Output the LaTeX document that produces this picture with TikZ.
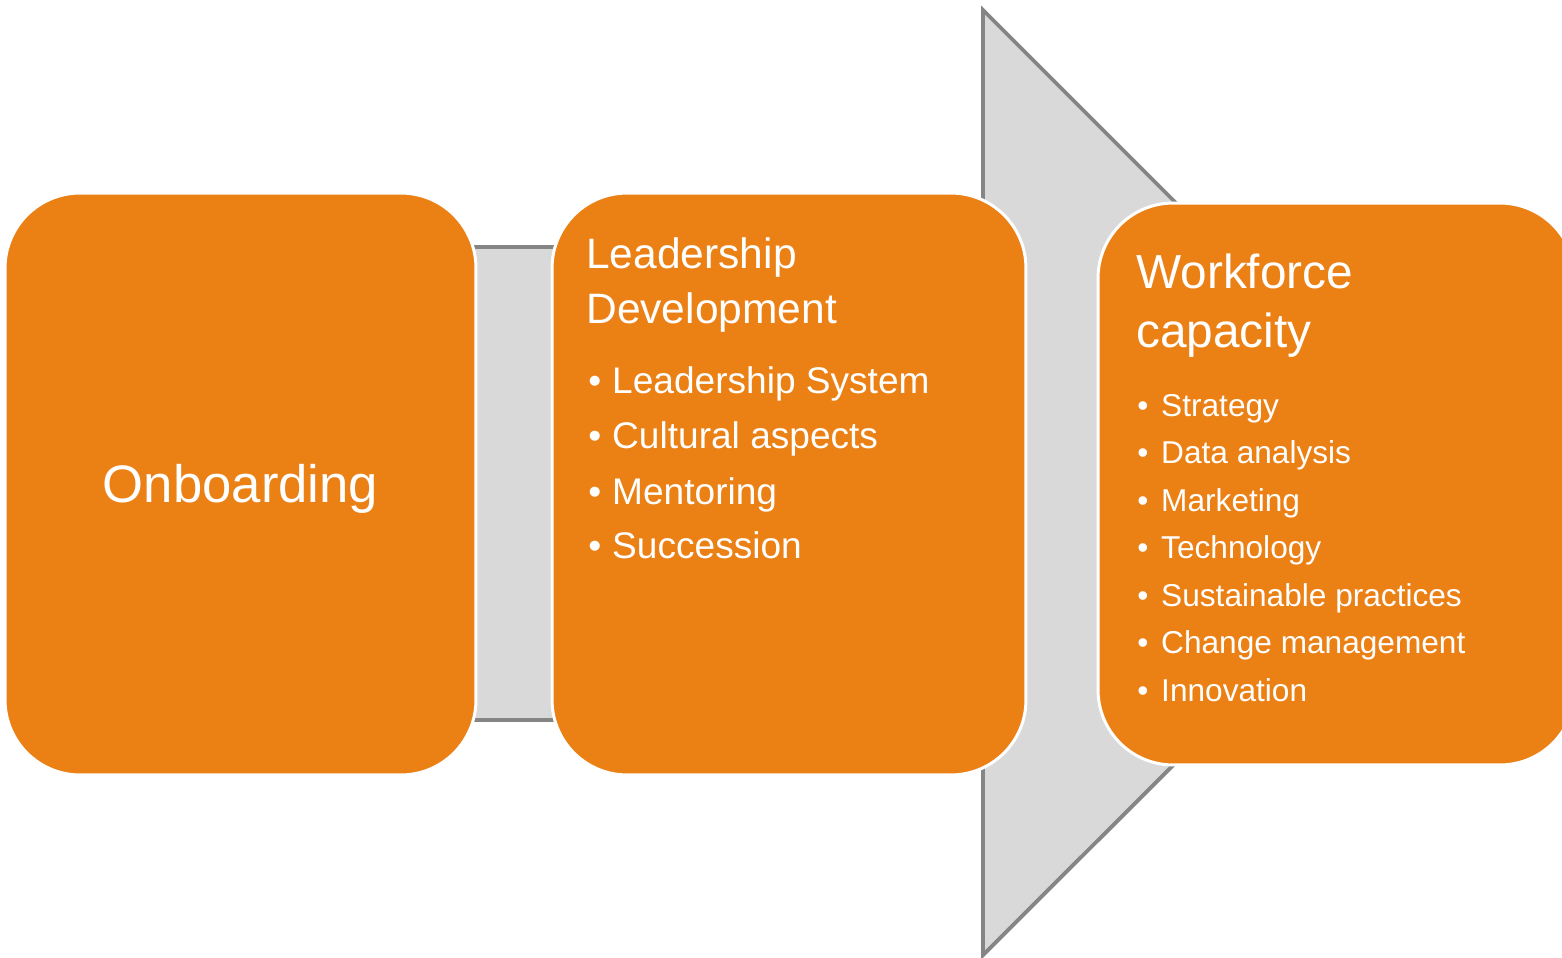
\documentclass[tikz,border=0pt]{standalone}
\usepackage{fontspec}
\setmainfont{Liberation Sans}
\definecolor{boxorange}{RGB}{235,128,21}
\definecolor{arrowfill}{RGB}{217,217,217}
\definecolor{arrowline}{RGB}{133,133,133}
\newcommand\bulitem[1]{\makebox[13.6pt][l]{\textbullet}#1}

\begin{document}
\begin{tikzpicture}[
  x=0.02cm, y=-0.02cm,
  stage/.style={draw=white,line width=1.7pt,fill=boxorange,rounded corners=1.5cm,text=white},
  txt/.style={anchor=base west,text=white,inner sep=0pt},
  title/.style={txt,font=\fontsize{24.2}{28}\selectfont},
  item/.style={txt,font=\fontsize{21.1}{25}\selectfont},
  wtitle/.style={txt,font=\fontsize{27.2}{32}\selectfont},
  witem/.style={txt,font=\fontsize{18}{22}\selectfont}
]
\useasboundingbox (0,0) rectangle (1562,957);

% gray arrow behind the stages
\draw[fill=arrowfill,draw=arrowline,line width=2.2pt,line join=miter]
  (440,247) -- (983,247) -- (983,10) -- (1456,483) -- (983,955)
  -- (983,720) -- (440,720) -- cycle;

% stages
\node[stage,minimum width=9.42cm,minimum height=11.64cm] (onboard) at (240.5,484) {};
\node[stage,minimum width=9.48cm,minimum height=11.64cm] (lead) at (789,484) {};
\node[stage,minimum width=9.54cm,minimum height=11.24cm] (work) at (1336.5,484) {};

% Onboarding
\node[text=white,font=\fontsize{30}{36}\selectfont,inner sep=0pt,anchor=base] (onboardtxt)
  at (240.5,502) {Onboarding};

% Leadership Development
\node[title] (leadt1) at (586,268) {Leadership};
\node[title] (leadt2) at (586,323) {Development};
\node[item] (leadi1) at (588,393) {\bulitem{Leadership System}};
\node[item] (leadi2) at (588,448) {\bulitem{Cultural aspects}};
\node[item] (leadi3) at (588,504) {\bulitem{Mentoring}};
\node[item] (leadi4) at (588,558) {\bulitem{Succession}};

% Workforce capacity
\node[wtitle] (workt1) at (1136,288) {Workforce};
\node[wtitle] (workt2) at (1136,347) {capacity};
\node[witem] (worki1) at (1137,416) {\bulitem{Strategy}};
\node[witem] (worki2) at (1137,463) {\bulitem{Data analysis}};
\node[witem] (worki3) at (1137,511) {\bulitem{Marketing}};
\node[witem] (worki4) at (1137,558) {\bulitem{Technology}};
\node[witem] (worki5) at (1137,606) {\bulitem{Sustainable practices}};
\node[witem] (worki6) at (1137,653) {\bulitem{Change management}};
\node[witem] (worki7) at (1137,701) {\bulitem{Innovation}};
\end{tikzpicture}
\end{document}
